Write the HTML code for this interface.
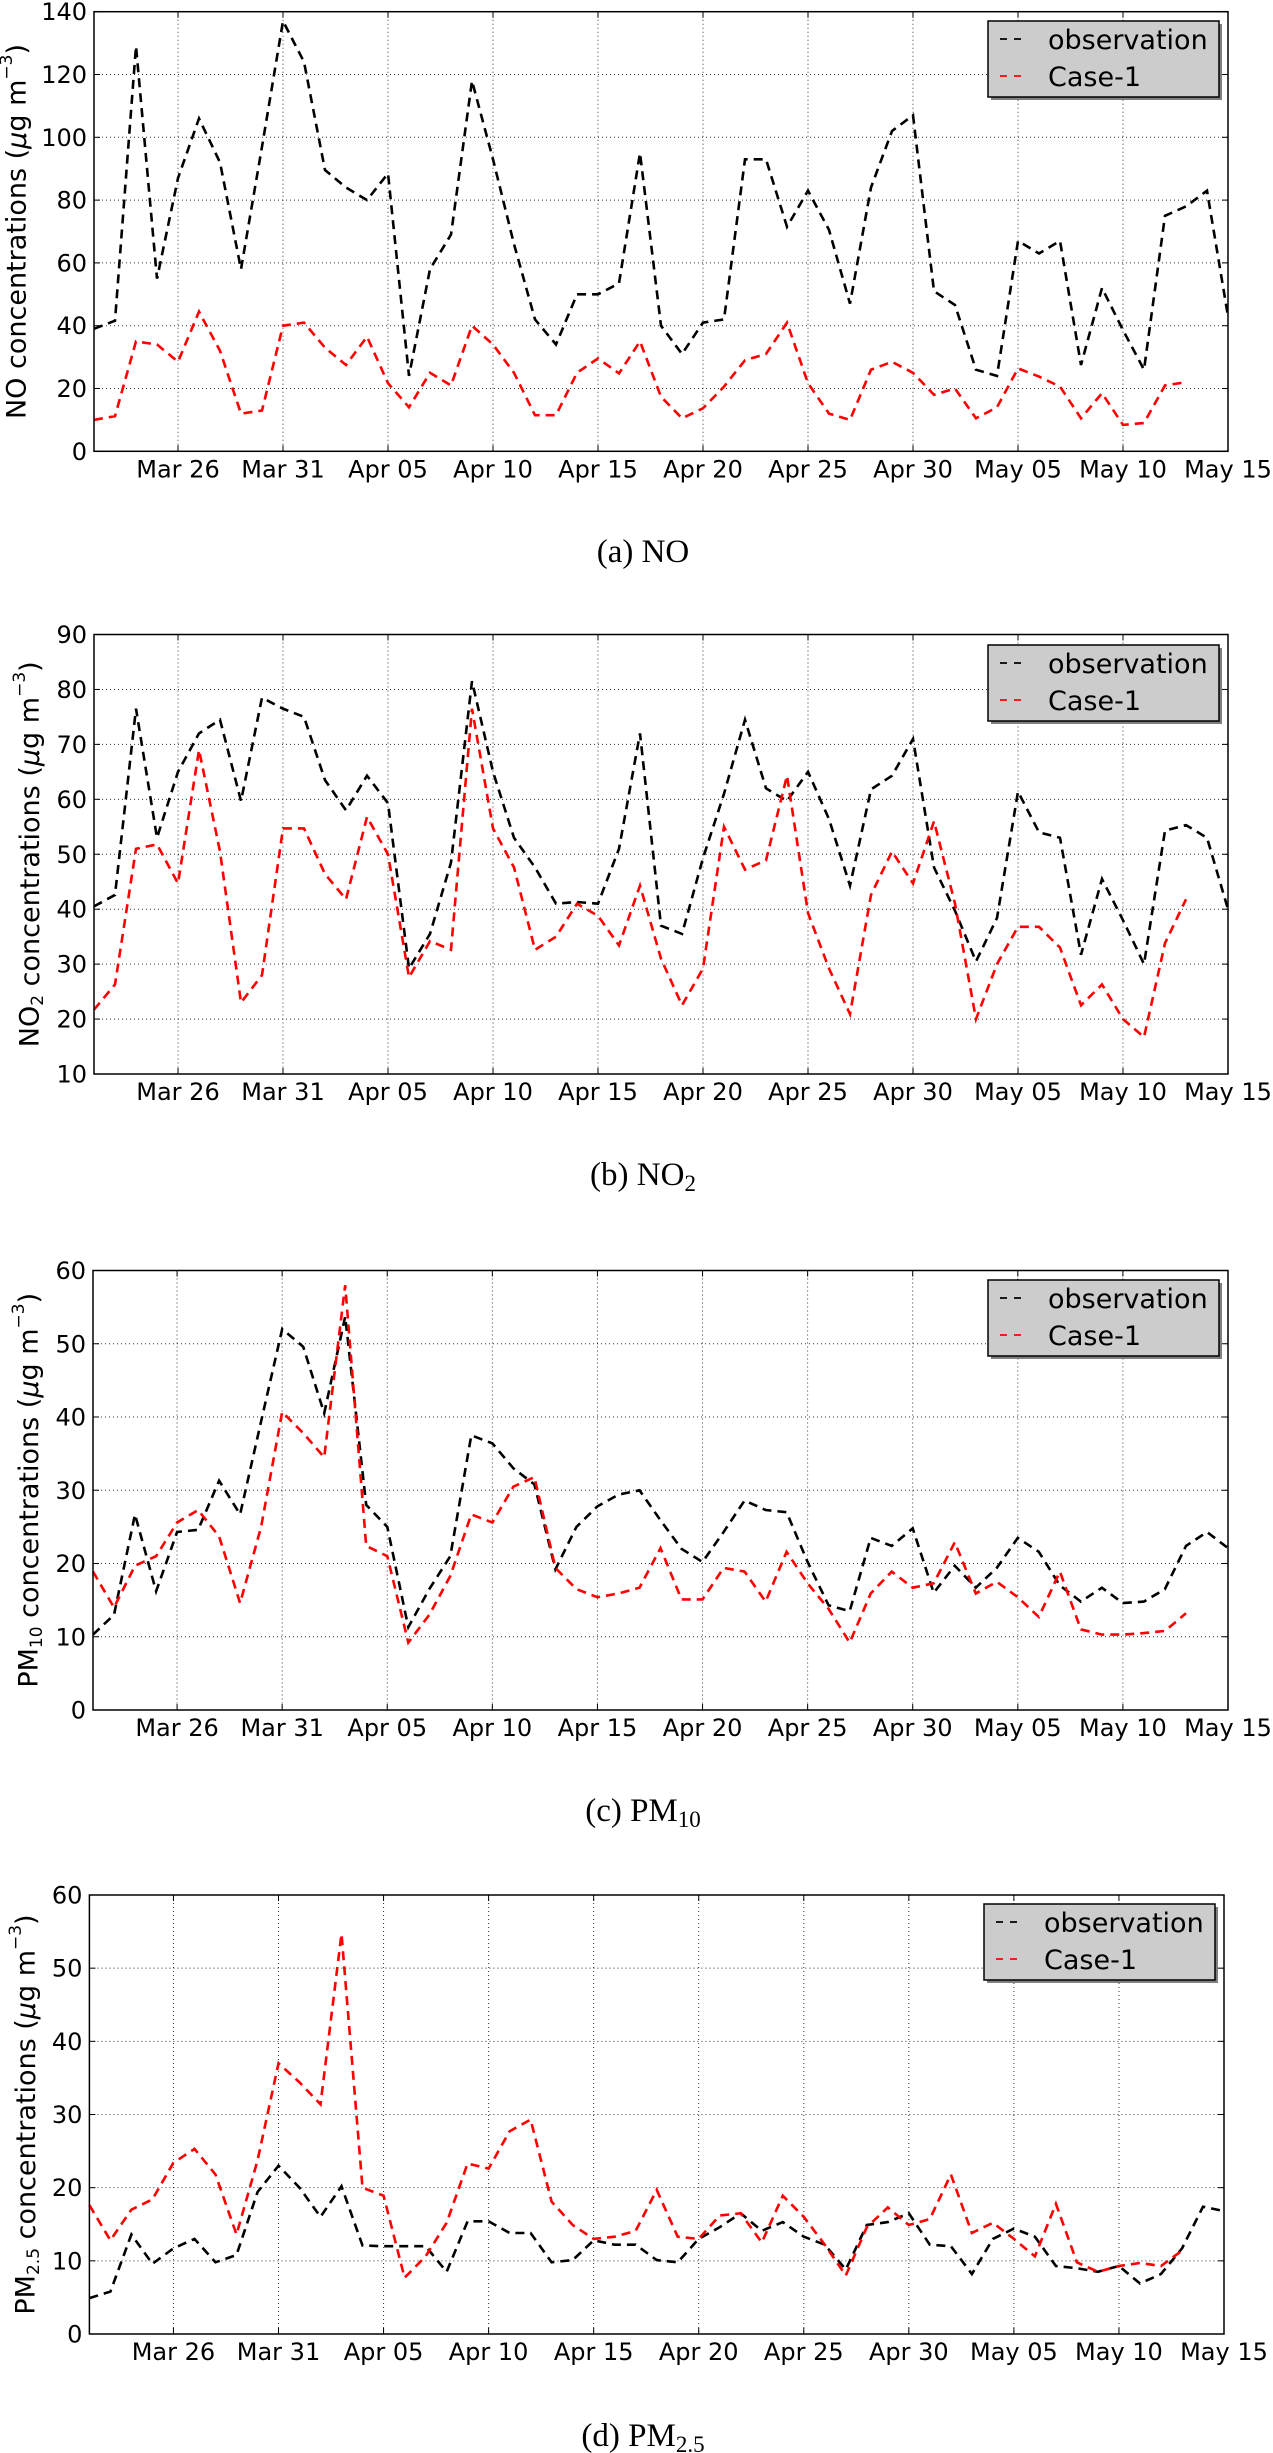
<!DOCTYPE html>
<html><head><meta charset="utf-8">
<style>
html,body{margin:0;padding:0;background:#fff;}
svg{display:block;}
.tick{font-family:"DejaVu Sans","Liberation Sans",sans-serif;font-size:24px;fill:#000;}
.leg{font-family:"DejaVu Sans","Liberation Sans",sans-serif;font-size:27px;fill:#000;}
.ylab{font-family:"DejaVu Sans","Liberation Sans",sans-serif;font-size:27px;fill:#000;}
.cap{font-family:"Liberation Serif",serif;font-size:33px;fill:#000;}
</style></head>
<body>
<svg id="fig" width="1273" height="2453" viewBox="0 0 1273 2453" xmlns="http://www.w3.org/2000/svg"></svg>
<script>
// x-axis: daily values Mar 22 .. May 15 (day index 0..54)
const xTickLabels = ["Mar 26","Mar 31","Apr 05","Apr 10","Apr 15","Apr 20","Apr 25","Apr 30","May 05","May 10","May 15"];
const xTickDays = [4,9,14,19,24,29,34,39,44,49,54];

const noObs = [39,41.6,129,55,87,106,92,58,97,137,124,89.6,84,80,88.5,24,58,69,118,93,66,42,34,50,50,53.5,95,40,31,41,42,93,93,71.5,83,70.5,47,84,102,107,51,46.6,26,24,67,63,67,27.5,52,38.6,26,75,78,83,43];
const noCase = [10,11.2,35,34,28.5,44.5,32,12,13,40,41,33,27.5,36.5,21.7,14,25,21,40,34,25,11.5,11.5,25,29.6,24.8,35,17.4,10.5,13.7,20.6,29,31,41,21.7,12,10,26,28.5,25,18,20,10.5,14,26.4,23.8,20.6,10.5,18.5,8.4,9,21,22];

const no2Obs = [40.5,42.6,76.5,53,65,72,74.5,59.7,78.5,76.5,75,63.5,58,64.3,59.3,29.2,35.5,48.5,81.5,65,53,47.6,41,41.3,41,51,72,37,35.5,49.3,61,74.5,62,59.7,65,56.4,44.3,61.8,64.3,71,47.6,39.7,30.5,38.4,61.4,54,53,31.7,45.5,38,30,54.3,55.3,53,40];
const no2Case = [21.7,26.3,51,51.8,44.7,69,50.5,23,28,54.7,54.7,46.4,41.8,56.8,50,27.6,34.2,32.6,76.5,54.7,47.6,32.6,35,41,38.8,33.4,44.3,31,22.5,29.2,55,47.2,48.9,64.3,39.3,29.2,20.9,42.6,50.5,44.7,56,41,20,30,36.8,36.8,33,22.5,26.3,20,16.7,33.8,41.8];

const pm10Obs = [10.3,13,26.7,16.2,24.3,24.6,31.3,26.7,39.4,52,49.6,40.5,53.7,28,25,11.3,16.5,21,37.5,36.4,33,30.8,19.2,25,27.8,29.4,30,25.9,22,20.2,24.3,28.6,27.3,27,20.2,14.3,13.5,23.5,22.4,24.8,16,19.7,16.7,19.4,23.5,21.6,17,14.8,16.7,14.6,14.8,16.5,22.4,24.3,22.1];
const pm10Case = [18.9,14,19.7,21,25.6,27.3,23.7,14.6,25,40.7,37.8,34.5,58,22.4,21,9.2,13,18.3,26.7,25.6,30.5,31.8,19.4,16.5,15.4,15.9,16.7,22.1,15.1,15.1,19.4,18.9,14.8,21.6,17.3,13.8,9.2,15.9,18.9,16.7,17.3,22.9,15.9,17.5,15.4,12.7,18.9,11,10.3,10.3,10.5,10.8,13.2];

const pm25Obs = [4.9,5.8,13.6,9.6,11.7,13,9.8,10.8,19.4,23,20,16,20.2,12.1,12,12,12,8.5,15.4,15.4,13.8,13.8,9.8,10.1,12.8,12.2,12.2,10.1,9.8,13,14.6,16.5,14.1,15.3,13.3,12.2,8.8,14.9,15.3,16.5,12.2,12,8.2,13,14.4,13.3,9.3,9,8.5,9.3,6.9,8.2,11.7,17.4,16.8];
const pm25Case = [17.6,12.8,17,18.4,23.4,25.3,21.8,13.6,23.7,37,34.4,31.4,54.7,20,18.9,7.7,10.6,15.2,23.3,22.6,27.7,29.3,18.1,14.9,13,13.3,14.1,19.7,13.3,13,16.2,16.5,12.5,18.9,16,12.2,8,14.6,17.3,14.9,15.7,21.8,13.8,15.2,13,10.6,17.8,9.8,8.5,9.3,9.7,9.3,11.4];

const noTicks = [0,20,40,60,80,100,120,140];
const no2Ticks = [10,20,30,40,50,60,70,80,90];
const pmTicks = [0,10,20,30,40,50,60];

const NS = "http://www.w3.org/2000/svg";
const svg = document.getElementById('fig');
function mk(tag, attrs, parent){
  const e = document.createElementNS(NS, tag);
  for (const k in attrs) e.setAttribute(k, attrs[k]);
  (parent||svg).appendChild(e);
  return e;
}

function drawChart(cfg){
  const g = mk('g', {});
  
  
  const L=cfg.left, R=cfg.right, T=cfg.top, B=cfg.bottom;
  const nDays = 54;
  const xs = d => L + (R-L)*d/nDays;
  const ys = v => B - (B-T)*(v-cfg.ymin)/(cfg.ymax-cfg.ymin);

  // grid
  cfg.yTicks.forEach(v=>{
    const y = ys(v);
    if (v!==cfg.ymin && v!==cfg.ymax){
      const gl = mk('line',{x1:L,x2:R,y1:y,y2:y,stroke:'#000','stroke-width':1,'stroke-dasharray':'1,3',opacity:0.8},g);
      
      
    }
    mk('line',{x1:L,x2:L+6,y1:y,y2:y,stroke:'#000','stroke-width':1},g);
    mk('line',{x1:R-6,x2:R,y1:y,y2:y,stroke:'#000','stroke-width':1},g);
    const t = mk('text',{x:L-7,y:y+8.5,'text-anchor':'end','class':'tick'},g);
    t.textContent = v;
    
    
  });
  xTickDays.forEach((d,i)=>{
    const x = xs(d);
    if (d!==nDays){
      const gl = mk('line',{x1:x,x2:x,y1:T,y2:B,stroke:'#000','stroke-width':1,'stroke-dasharray':'1,3',opacity:0.8},g);
      
      
    }
    mk('line',{x1:x,x2:x,y1:B-6,y2:B,stroke:'#000','stroke-width':1},g);
    mk('line',{x1:x,x2:x,y1:T,y2:T+6,stroke:'#000','stroke-width':1},g);
    const t = mk('text',{x:x,y:B+26,'text-anchor':'middle','class':'tick'},g);
    t.textContent = xTickLabels[i];
    
    
  });

  // series
  function series(vals, color, nm){
    const pts = vals.map((v,i)=>xs(i).toFixed(1)+','+ys(v).toFixed(1)).join(' ');
    const p = mk('polyline',{points:pts,fill:'none',stroke:color,'stroke-width':2.6,'stroke-dasharray':'9,6','stroke-linejoin':'miter'},g);
    
    
  }
  series(cfg.obs,'#000','observation-line');
  series(cfg.cas,'#ff0000','case-1-line');

  // frame
  const fr = mk('rect',{x:L,y:T,width:R-L,height:B-T,fill:'none',stroke:'#000','stroke-width':1.5},g);
  
  

  // legend
  const lg = mk('g',{},g);
  
  
  const lx=cfg.legX, ly=cfg.legY, lw=231, lh=76;
  mk('rect',{x:lx+3,y:ly+3,width:lw,height:lh,fill:'#808080'},lg);
  mk('rect',{x:lx,y:ly,width:lw,height:lh,fill:'#cccccc',stroke:'#000','stroke-width':1.5},lg);
  const e1 = mk('g',{},lg);
  
  
  mk('line',{x1:lx+12,x2:lx+36,y1:ly+18,y2:ly+18,stroke:'#000','stroke-width':1.8,'stroke-dasharray':'7,7'},e1);
  const t1 = mk('text',{x:lx+60,y:ly+28,'class':'leg'},e1); t1.textContent='observation';
  const e2 = mk('g',{},lg);
  
  
  mk('line',{x1:lx+12,x2:lx+36,y1:ly+55,y2:ly+55,stroke:'#ff0000','stroke-width':1.8,'stroke-dasharray':'7,7'},e2);
  const t2 = mk('text',{x:lx+60,y:ly+65,'class':'leg'},e2); t2.textContent='Case-1';

  // y label
  const cy = (T+B)/2;
  const yl = mk('text',{x:cfg.ylabX,y:cy,'text-anchor':'middle','class':'ylab',transform:'rotate(-90 '+cfg.ylabX+' '+cy+')','dominant-baseline':'middle'},g);
  
  
  yl.innerHTML = cfg.ylab;

  // caption
  const cp = mk('text',{x:643,y:cfg.capY,'text-anchor':'middle','class':'cap'},g);
  
  
  cp.innerHTML = cfg.cap;
}

const unit = ' (<tspan font-style="italic">μ</tspan>g m<tspan font-size="17" dy="-11">−3</tspan><tspan dy="11">)</tspan>';

drawChart({name:'no-chart',left:94,right:1228,top:11.7,bottom:451.3,ymin:0,ymax:140,yTicks:noTicks,
  obs:noObs,cas:noCase,legX:988,legY:21,ylabX:18,
  ylab:'NO concentrations'+unit, capY:562, cap:'(a) NO'});
drawChart({name:'no2-chart',left:94,right:1228,top:634.5,bottom:1074,ymin:10,ymax:90,yTicks:no2Ticks,
  obs:no2Obs,cas:no2Case,legX:988,legY:645,ylabX:31,
  ylab:'NO<tspan font-size="17" dy="7">2</tspan><tspan dy="-7"> concentrations</tspan>'+unit, capY:1185, cap:'(b) NO<tspan font-size="23" dy="6">2</tspan>'});
drawChart({name:'pm10-chart',left:93,right:1228,top:1270.5,bottom:1710,ymin:0,ymax:60,yTicks:pmTicks,
  obs:pm10Obs,cas:pm10Case,legX:988,legY:1280,ylabX:30,
  ylab:'PM<tspan font-size="17" dy="7">10</tspan><tspan dy="-7"> concentrations</tspan>'+unit, capY:1821, cap:'(c) PM<tspan font-size="23" dy="6">10</tspan>'});
drawChart({name:'pm25-chart',left:89.4,right:1224,top:1895,bottom:2334,ymin:0,ymax:60,yTicks:pmTicks,
  obs:pm25Obs,cas:pm25Case,legX:984,legY:1904,ylabX:27,
  ylab:'PM<tspan font-size="17" dy="7">2.5</tspan><tspan dy="-7"> concentrations</tspan>'+unit, capY:2446, cap:'(d) PM<tspan font-size="23" dy="6">2.5</tspan>'});
</script>
</body></html>
